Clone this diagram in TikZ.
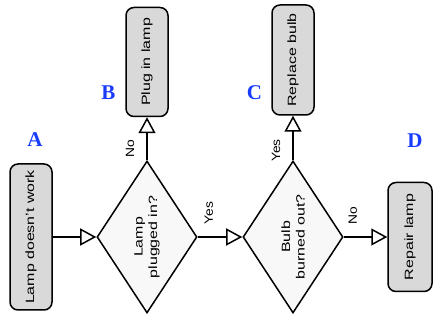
\documentclass[tikz,border=0pt]{standalone}
\usepackage{fontspec}
\setmainfont{Liberation Sans}
\newfontfamily\letterfont{Liberation Serif}
\usepackage{xcolor}
\usetikzlibrary{shapes.geometric, arrows.meta, positioning}

\definecolor{boxgray}{RGB}{217,217,217}
\definecolor{decgray}{RGB}{248,248,248}
\definecolor{letterblue}{RGB}{25,60,255}
\newcommand{\stext}[1]{\scalebox{1.33}[1]{#1}}
\newcommand{\slabel}[1]{\scalebox{1.15}[1]{#1}}

\tikzset{
  act/.style={draw, line width=1.5pt, fill=boxgray, rounded corners=8pt, rotate=90,
    minimum height=42pt, inner sep=2pt, font=\fontsize{12}{14.5}\selectfont},
  dec/.style={diamond, draw, line width=1.5pt, fill=decgray, rotate=90, aspect=1.52,
    minimum width=152pt, minimum height=100pt, inner sep=0pt, align=center,
    font=\fontsize{12}{14.5}\selectfont},
  flow/.style={line width=1.5pt, -{Triangle[length=16pt, width=17pt, fill=white]}},
  ans/.style={rotate=90, inner sep=12pt, font=\fontsize{12}{14}\selectfont},
  tag/.style={font=\letterfont\bfseries\fontsize{21}{21}\selectfont, text=letterblue}
}

\begin{document}
\begin{tikzpicture}[x=1pt, y=1pt, node distance=2cm, on grid]
        \useasboundingbox (0,0) rectangle (442,324);

        \node[act, minimum width=146pt] (lamp) at (31,87) {\stext{Lamp doesn't work}};
        \node[dec] (plugged) [right=116pt of lamp] {\stext{Lamp}\\\stext{plugged in?}};
        \node[act, minimum width=109pt] (plug) [above=175pt of plugged] {\stext{Plug in lamp}};
        \node[dec] (burned) [right=146pt of plugged] {\stext{Bulb}\\\stext{burned out?}};
        \node[act, minimum width=110pt] (bulb) [above=177pt of burned] {\stext{Replace bulb}};
        \node[act, minimum width=109pt, minimum height=44pt] (repair) [right=117pt of burned] {\stext{Repair lamp}};

        \node[tag] (tagA) at (35,184) {A};
        \node[tag] (tagB) at (108.5,231) {B};
        \node[tag] (tagC) at (254.5,231.5) {C};
        \node[tag] (tagD) at (415,183.5) {D};

        \draw[flow] (lamp) -- (plugged);
        \draw[flow] (plugged) -- node[ans, pos=.27, anchor=south] {\slabel{No}} (plug);
        \draw[flow] (plugged) -- node[ans, pos=.25, anchor=west] {\slabel{Yes}} (burned);
        \draw[flow] (burned) -- node[ans, pos=.22, anchor=south] {\slabel{Yes}} (bulb);
        \draw[flow] (burned) -- node[ans, pos=.21, anchor=west] {\slabel{No}} (repair);
\end{tikzpicture}
\end{document}
